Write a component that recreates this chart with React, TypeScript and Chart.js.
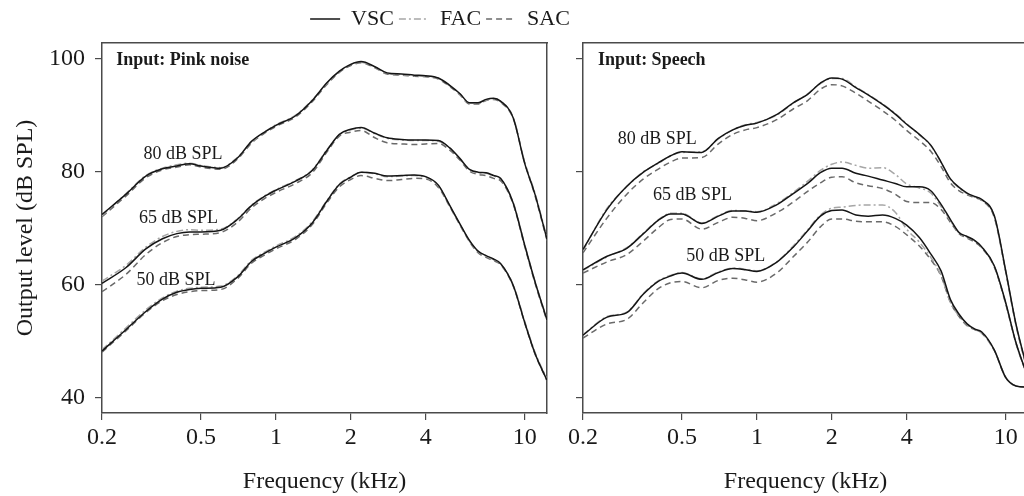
import React, { useEffect, useRef } from "react";
import { Chart, registerables } from "chart.js";

Chart.register(...registerables);

// ---------- data ----------
const FREQ_KHZ = [0.2, 0.25, 0.3, 0.35, 0.4, 0.45, 0.5, 0.6, 0.7, 0.8, 0.9, 1.0, 1.2, 1.4, 1.6, 1.8, 2.0, 2.2, 2.5, 2.8, 3.2, 3.6, 4.0, 4.5, 5.0, 5.5, 6.0, 6.5, 7.0, 7.5, 8.0, 9.0, 10, 11, 12.3];
const X_TICKS_KHZ = [0.2, 0.5, 1, 2, 4, 10];
const Y_TICKS_DB = [40, 60, 80, 100];
const X_MIN = 0.2;
const X_MAX = 12.3;
const Y_MIN = 37.2;
const Y_MAX = 102.8;

const SERIES_NAMES = ["VSC", "FAC", "SAC"];

// Input: Pink noise
const PINK_VSC_80 = [72.4, 76.0, 79.2, 80.5, 81.0, 81.4, 81.0, 80.6, 82.4, 85.4, 87.0, 88.2, 89.9, 92.6, 95.7, 97.8, 99.0, 99.5, 98.6, 97.5, 97.3, 97.1, 97.0, 96.6, 95.3, 93.8, 92.2, 92.2, 92.8, 93.0, 92.5, 89.5, 81.5, 76.0, 68.0];
const PINK_FAC_80 = [72.2, 76.1, 79.3, 80.6, 81.2, 81.5, 81.1, 80.7, 82.5, 85.3, 87.0, 88.3, 90.0, 92.7, 95.6, 97.7, 99.0, 99.4, 98.5, 97.4, 97.2, 97.0, 96.9, 96.5, 95.2, 93.7, 92.1, 92.1, 92.7, 92.9, 92.4, 89.6, 81.7, 76.2, 68.2];
const PINK_SAC_80 = [72.0, 75.7, 78.9, 80.3, 80.8, 81.2, 80.8, 80.4, 82.2, 85.1, 86.8, 88.0, 89.7, 92.4, 95.4, 97.6, 98.8, 99.3, 98.4, 97.3, 97.1, 96.9, 96.8, 96.4, 95.1, 93.6, 92.0, 92.0, 92.6, 92.8, 92.3, 89.4, 81.6, 75.8, 67.8];

const PINK_VSC_65 = [60.2, 63.0, 66.3, 68.1, 69.0, 69.3, 69.3, 69.6, 71.5, 74.0, 75.6, 76.7, 78.3, 80.2, 83.7, 86.6, 87.5, 87.8, 86.8, 86.0, 85.7, 85.6, 85.6, 85.5, 84.2, 82.3, 80.4, 79.9, 79.8, 79.3, 78.8, 74.4, 67.0, 60.5, 53.7];
const PINK_FAC_65 = [60.6, 63.4, 66.6, 68.5, 69.4, 69.7, 69.6, 69.8, 71.6, 74.1, 75.7, 76.8, 78.4, 80.3, 83.8, 86.5, 87.4, 87.7, 86.7, 85.9, 85.6, 85.5, 85.5, 85.4, 84.1, 82.2, 80.3, 79.8, 79.7, 79.2, 78.7, 74.5, 67.1, 60.6, 53.8];
const PINK_SAC_65 = [58.7, 61.8, 65.3, 67.4, 68.5, 68.8, 68.9, 69.2, 71.0, 73.6, 75.2, 76.3, 77.9, 79.8, 83.4, 86.3, 87.0, 87.3, 86.0, 85.1, 84.9, 84.8, 84.9, 85.0, 83.8, 82.0, 80.1, 79.5, 79.3, 78.8, 78.4, 74.2, 66.8, 60.3, 53.5];

const PINK_VSC_50 = [48.2, 52.0, 55.2, 57.4, 58.6, 59.1, 59.3, 59.5, 61.3, 64.1, 65.5, 66.6, 68.3, 70.9, 74.7, 77.7, 79.0, 79.9, 79.7, 79.2, 79.3, 79.4, 79.1, 77.6, 74.0, 70.7, 67.8, 65.9, 65.1, 64.5, 63.7, 59.8, 53.3, 47.8, 43.0];
const PINK_FAC_50 = [48.4, 52.3, 55.5, 57.6, 58.8, 59.3, 59.5, 59.7, 61.5, 64.3, 65.7, 66.8, 68.5, 71.1, 74.8, 77.8, 79.1, 79.9, 79.6, 79.1, 79.2, 79.3, 79.0, 77.5, 73.9, 70.6, 67.7, 65.8, 65.0, 64.4, 63.6, 59.9, 53.5, 48.0, 43.2];
const PINK_SAC_50 = [48.0, 51.8, 55.0, 57.1, 58.2, 58.7, 58.9, 59.1, 61.0, 63.8, 65.2, 66.3, 68.0, 70.6, 74.4, 77.3, 78.6, 79.3, 78.8, 78.4, 78.6, 78.8, 78.7, 77.2, 73.8, 70.5, 67.6, 65.6, 64.8, 64.2, 63.5, 59.7, 53.2, 47.7, 42.9];

// Input: Speech
const SPEECH_VSC_80 = [66.2, 73.3, 77.4, 79.9, 81.5, 82.8, 83.5, 83.4, 85.9, 87.4, 88.2, 88.6, 90.1, 92.2, 93.7, 95.7, 96.6, 96.4, 94.9, 93.6, 91.9, 90.2, 88.4, 86.6, 84.7, 81.7, 78.7, 77.2, 76.2, 75.6, 75.1, 72.2, 62.5, 53.0, 44.5];
const SPEECH_FAC_80 = [66.0, 73.5, 77.3, 80.0, 81.4, 82.8, 83.4, 83.5, 85.8, 87.4, 88.3, 88.7, 90.0, 92.1, 93.8, 95.6, 96.5, 96.5, 95.0, 93.7, 92.0, 90.3, 88.5, 86.5, 84.6, 81.6, 78.6, 77.1, 76.1, 75.5, 75.0, 72.1, 62.4, 52.9, 44.4];
const SPEECH_SAC_80 = [65.6, 71.8, 76.0, 78.7, 80.4, 81.7, 82.4, 82.5, 84.9, 86.6, 87.4, 87.8, 89.2, 91.1, 92.6, 94.6, 95.4, 95.2, 93.9, 92.5, 90.8, 89.1, 87.3, 85.5, 83.6, 80.9, 78.0, 76.6, 75.9, 75.4, 74.9, 71.9, 62.3, 52.8, 44.3];

const SPEECH_VSC_65 = [62.6, 65.0, 66.4, 69.0, 71.3, 72.5, 72.5, 70.8, 72.1, 73.0, 73.0, 72.8, 74.1, 76.1, 77.9, 79.8, 80.6, 80.6, 79.7, 79.2, 78.5, 77.9, 77.3, 77.3, 76.6, 74.2, 71.5, 69.2, 68.5, 67.8, 66.7, 63.3, 56.8, 49.7, 43.5];
const SPEECH_FAC_65 = [62.5, 64.9, 66.5, 69.1, 71.4, 72.6, 72.6, 70.9, 72.2, 73.1, 73.0, 72.9, 74.3, 76.3, 78.3, 80.2, 81.3, 81.7, 81.1, 80.6, 80.7, 79.5, 77.8, 77.1, 76.2, 73.8, 71.3, 69.1, 68.4, 67.7, 66.6, 63.2, 56.7, 49.6, 43.4];
const SPEECH_SAC_65 = [62.0, 64.0, 65.3, 67.7, 70.0, 71.5, 71.6, 69.8, 71.0, 71.9, 71.7, 71.3, 72.7, 74.6, 76.5, 78.0, 79.0, 79.1, 78.0, 77.5, 77.0, 76.0, 74.7, 74.5, 74.5, 73.3, 71.0, 69.0, 68.2, 67.5, 66.5, 63.1, 56.6, 49.6, 43.4];

const SPEECH_VSC_50 = [51.0, 54.2, 55.0, 58.3, 60.5, 61.5, 62.0, 60.9, 62.1, 62.8, 62.6, 62.3, 63.9, 66.6, 69.5, 72.1, 73.1, 73.2, 72.3, 72.1, 72.3, 71.7, 70.5, 68.3, 65.4, 62.4, 57.3, 54.7, 53.0, 52.1, 51.6, 48.4, 43.5, 42.0, 41.8];
const SPEECH_FAC_50 = [51.1, 54.3, 55.1, 58.4, 60.6, 61.6, 62.1, 61.0, 62.2, 62.9, 62.7, 62.4, 64.0, 66.8, 69.7, 72.3, 73.5, 73.7, 74.0, 74.1, 74.1, 72.8, 69.8, 67.5, 64.8, 61.6, 56.8, 54.4, 52.8, 52.0, 51.4, 48.3, 43.6, 42.0, 41.8];
const SPEECH_SAC_50 = [50.5, 53.0, 53.8, 56.8, 59.2, 60.3, 60.5, 59.4, 60.7, 61.1, 60.8, 60.4, 62.0, 64.9, 67.5, 70.2, 71.6, 71.6, 71.2, 71.1, 71.1, 70.3, 68.8, 66.8, 64.4, 61.5, 56.8, 54.3, 52.7, 52.0, 51.4, 48.3, 43.5, 42.0, 41.8];

// text annotations (frequency kHz, level dB SPL)
const PINK_NOTES = [
  { text: "Input: Pink noise", f: 0.228, db: 99.8, bold: true, align: "left" },
  { text: "80 dB SPL", f: 0.423, db: 83.0, bold: false, align: "center" },
  { text: "65 dB SPL", f: 0.406, db: 71.7, bold: false, align: "center" },
  { text: "50 dB SPL", f: 0.397, db: 60.8, bold: false, align: "center" },
];
const SPEECH_NOTES = [
  { text: "Input: Speech", f: 0.23, db: 99.8, bold: true, align: "left" },
  { text: "80 dB SPL", f: 0.398, db: 85.8, bold: false, align: "center" },
  { text: "65 dB SPL", f: 0.551, db: 75.8, bold: false, align: "center" },
  { text: "50 dB SPL", f: 0.75, db: 64.9, bold: false, align: "center" },
];

// ---------- styles ----------
const FONT = "'Liberation Serif', 'Times New Roman', serif";
const INK = "#1a1a1a";
const AXIS = "#4a4a4a";
const STYLE: Record<string, { color: string; dash: number[]; width: number }> = {
  VSC: { color: "#151515", dash: [], width: 1.5 },
  FAC: { color: "#a6a6a6", dash: [7, 3, 2, 3], width: 1.5 },
  SAC: { color: "#6a6a6a", dash: [6, 4], width: 1.5 },
};

const W_LEFT = 880;
const W_RIGHT = 496;
const H = 496;

function makeDatasets(groups: number[][][]) {
  const ds: any[] = [];
  groups.forEach((group) => {
    group.forEach((vals, k) => {
      const name = SERIES_NAMES[k];
      const st = STYLE[name];
      ds.push({
        label: name,
        data: FREQ_KHZ.map((f, i) => ({ x: f, y: vals[i] })),
        borderColor: st.color,
        borderDash: st.dash,
        borderWidth: st.width,
        pointRadius: 0,
        pointStyle: "line",
        cubicInterpolationMode: "monotone",
        fill: false,
        xAxisID: "x",
        yAxisID: "y",
      });
    });
  });
  return ds;
}

function notesPlugin(notes: any[]) {
  return {
    id: "notes",
    afterDatasetsDraw(chart: any) {
      const { ctx, scales } = chart;
      ctx.save();
      notes.forEach((n) => {
        ctx.font = `${n.bold ? "bold " : ""}18px ${FONT}`;
        ctx.fillStyle = INK;
        ctx.textAlign = n.align;
        ctx.textBaseline = "middle";
        ctx.fillText(n.text, scales.x.getPixelForValue(n.f), scales.y.getPixelForValue(n.db));
      });
      ctx.restore();
    },
  };
}

function baseScales(yWidth: number, topHeight: number, showYLabels: boolean, rightWidth: number | null) {
  const scales: any = {
    x: {
      type: "logarithmic",
      position: "bottom",
      min: X_MIN,
      max: X_MAX,
      bounds: "data",
      afterBuildTicks: (s: any) => {
        s.ticks = X_TICKS_KHZ.map((v) => ({ value: v }));
      },
      ticks: {
        callback: (v: any) => String(v),
        font: { family: FONT, size: 24 },
        color: INK,
        padding: 3,
        autoSkip: false,
        maxRotation: 0,
      },
      grid: { display: true, drawOnChartArea: false, drawTicks: true, tickLength: 7, color: AXIS, lineWidth: 1.2 },
      border: { display: true, color: AXIS, width: 1.5 },
      title: { display: true, text: "Frequency (kHz)", font: { family: FONT, size: 24 }, color: INK, padding: { top: 0, bottom: 0 } },
      afterFit: (s: any) => {
        s.height = 83;
      },
    },
    y: {
      type: "linear",
      position: "left",
      min: Y_MIN,
      max: Y_MAX,
      bounds: "data",
      afterBuildTicks: (s: any) => {
        s.ticks = Y_TICKS_DB.map((v) => ({ value: v }));
      },
      ticks: {
        display: showYLabels,
        font: { family: FONT, size: 24 },
        color: INK,
        padding: 10,
      },
      grid: { display: true, drawOnChartArea: false, drawTicks: true, tickLength: 7, color: AXIS, lineWidth: 1.2 },
      border: { display: true, color: AXIS, width: 1.5 },
      title: showYLabels
        ? { display: true, text: "Output level (dB SPL)", font: { family: FONT, size: 24 }, color: INK, padding: { top: 11, bottom: 0 } }
        : { display: false },
      afterFit: (s: any) => {
        s.width = yWidth;
      },
    },
    xTop: {
      type: "linear",
      position: "top",
      display: true,
      ticks: { display: false },
      grid: { display: false },
      border: { display: true, color: AXIS, width: 1.5 },
      afterFit: (s: any) => {
        s.height = topHeight;
      },
    },
  };
  if (rightWidth !== null) {
    scales.yRight = {
      type: "linear",
      position: "right",
      display: true,
      ticks: { display: false },
      grid: { display: false },
      border: { display: true, color: AXIS, width: 1.5 },
      afterFit: (s: any) => {
        s.width = rightWidth;
      },
    };
  }
  return scales;
}

function leftConfig(): any {
  return {
    type: "line",
    data: {
      datasets: makeDatasets([
        [PINK_VSC_80, PINK_FAC_80, PINK_SAC_80],
        [PINK_VSC_65, PINK_FAC_65, PINK_SAC_65],
        [PINK_VSC_50, PINK_FAC_50, PINK_SAC_50],
      ]),
    },
    options: {
      responsive: false,
      animation: false,
      devicePixelRatio: 1,
      layout: { padding: { top: 3, left: 0, right: 0, bottom: 0 } },
      scales: baseScales(102, 3, true, W_LEFT - 547),
      plugins: {
        tooltip: { enabled: false },
        legend: {
          display: true,
          position: "top",
          align: "center",
          labels: {
            usePointStyle: true,
            pointStyleWidth: 30,
            padding: 5,
            color: INK,
            font: { family: FONT, size: 22 },
            generateLabels: () =>
              SERIES_NAMES.map((name, i) => ({
                text: name,
                fillStyle: "rgba(0,0,0,0)",
                strokeStyle: STYLE[name].color,
                lineWidth: STYLE[name].width,
                lineDash: STYLE[name].dash,
                pointStyle: "line",
                fontColor: INK,
                hidden: false,
                datasetIndex: i,
              })),
          },
        },
      },
    },
    plugins: [notesPlugin(PINK_NOTES)],
  };
}

function rightConfig(): any {
  return {
    type: "line",
    data: {
      datasets: makeDatasets([
        [SPEECH_VSC_80, SPEECH_FAC_80, SPEECH_SAC_80],
        [SPEECH_VSC_65, SPEECH_FAC_65, SPEECH_SAC_65],
        [SPEECH_VSC_50, SPEECH_FAC_50, SPEECH_SAC_50],
      ]),
    },
    options: {
      responsive: false,
      animation: false,
      devicePixelRatio: 1,
      layout: { padding: { top: 0, left: 0, right: 16, bottom: 0 } },
      scales: baseScales(35, 43, false, null),
      plugins: {
        tooltip: { enabled: false },
        legend: { display: false },
      },
    },
    plugins: [notesPlugin(SPEECH_NOTES)],
  };
}

export default function App() {
  const leftRef = useRef<HTMLCanvasElement>(null);
  const rightRef = useRef<HTMLCanvasElement>(null);

  useEffect(() => {
    Chart.defaults.font.family = FONT;
    const a = new Chart(leftRef.current as HTMLCanvasElement, leftConfig());
    const b = new Chart(rightRef.current as HTMLCanvasElement, rightConfig());
    return () => {
      a.destroy();
      b.destroy();
    };
  }, []);

  return (
    <div style={{ position: "fixed", left: 0, top: 0, width: 1024, height: H, overflow: "hidden", background: "#ffffff" }}>
      <canvas ref={leftRef} width={W_LEFT} height={H} style={{ position: "absolute", left: 0, top: 0, width: W_LEFT, height: H }} />
      <canvas ref={rightRef} width={W_RIGHT} height={H} style={{ position: "absolute", left: 548, top: 0, width: W_RIGHT, height: H }} />
    </div>
  );
}
